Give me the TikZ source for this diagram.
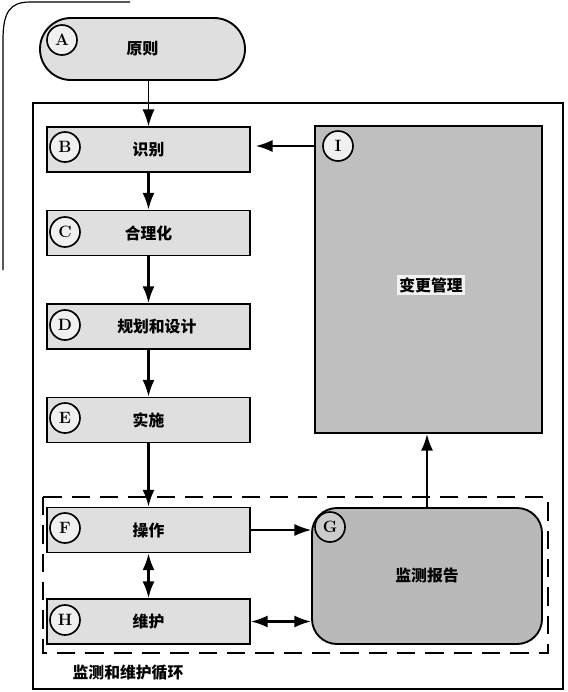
\documentclass[tikz,border=0pt]{standalone}
\usepackage{fontspec}
\newfontfamily\cjk{Noto Sans CJK SC}
\usetikzlibrary{arrows.meta}

\begin{document}
\begin{tikzpicture}[x=0.03cm, y=-0.03cm, line width=1pt,
  >={Latex[length=5mm,width=3.6mm]},
  box/.style={draw, line width=1.6pt, fill=gray!25, minimum width=6.09cm,
    minimum height=1.35cm, font=\cjk\bfseries\fontsize{13.5}{16}\selectfont},
  tag/.style={circle, draw, line width=1.4pt, fill=gray!12, minimum size=0.9cm,
    inner sep=0pt, font=\bfseries\fontsize{14}{16}\selectfont},
  flow/.style={->, line width=1.8pt}]
 \useasboundingbox (0,0) rectangle (568,692);

 % page frame
 \draw (3,270) -- (3,40) .. controls (3,12) and (10,2) .. (30,2) -- (130,2);
 \draw[line width=1.2pt] (33,103) rectangle (563,689);
 \draw[line width=1.6pt, dash pattern=on 0.55cm off 0.3cm] (43,497) rectangle (548,653);

 \node[box, rounded corners=0.93cm, minimum width=6.15cm, minimum height=1.86cm] (A) at (142.5,49) {原则};
 \node[box] (B) at (148.5,149.5) {识别};
 \node[box] (C) at (148.5,233) {合理化};
 \node[box] (D) at (148.5,326.5) {\hspace{0.5cm}规划和设计};
 \node[box] (E) at (148.5,420) {实施};
 \node[box] (F) at (148.5,530) {操作};
 \node[box] (H) at (148.5,621.5) {维护};

 \node[box, fill=gray!50, minimum width=6.81cm, minimum height=9.21cm] (I) at (428.5,279.5) {};
 \node[fill=gray!10, inner sep=2pt, font=\cjk\bfseries\fontsize{13.5}{16}\selectfont] (Itext) at (431,285) {变更管理};
 \node[box, fill=gray!55, rounded corners=0.75cm, minimum width=6.9cm, minimum height=4.08cm] (G) at (427,576) {监测报告};

 \node[tag] (tA) at (62,40) {A};
 \node[tag] (tB) at (65,147) {B};
 \node[tag] (tC) at (65,232) {C};
 \node[tag] (tD) at (65,325) {D};
 \node[tag] (tE) at (65,418) {E};
 \node[tag] (tF) at (65,528) {F};
 \node[tag] (tH) at (65,620) {H};
 \node[tag, fill=gray!40] (tG) at (330,527) {G};
 \node[tag] (tI) at (338,146) {I};

 \node[font=\cjk\bfseries\fontsize{13.5}{16}\selectfont] (loop) at (128,673) {监测和维护循环};

 \draw[->, line width=0.9pt] (A.south -| B.north) -- (B.north);
 \draw[flow] (B) -- (C);
 \draw[flow] (C) -- (D);
 \draw[flow] (D) -- (E);
 \draw[flow] (E) -- (F);
 \draw[flow, <->] (F) -- (H);
 \draw[->, line width=1.2pt] (F.east) -- (G.west |- F.east);
 \draw[<->, line width=1.8pt] (H.east) -- (G.west |- H.east);
 \draw[flow] (G.north) -- (G.north |- I.south);
 \draw[->, line width=1.2pt, shorten >=0.15cm] (tI -| I.west) -- (tI -| B.east);
\end{tikzpicture}
\end{document}
